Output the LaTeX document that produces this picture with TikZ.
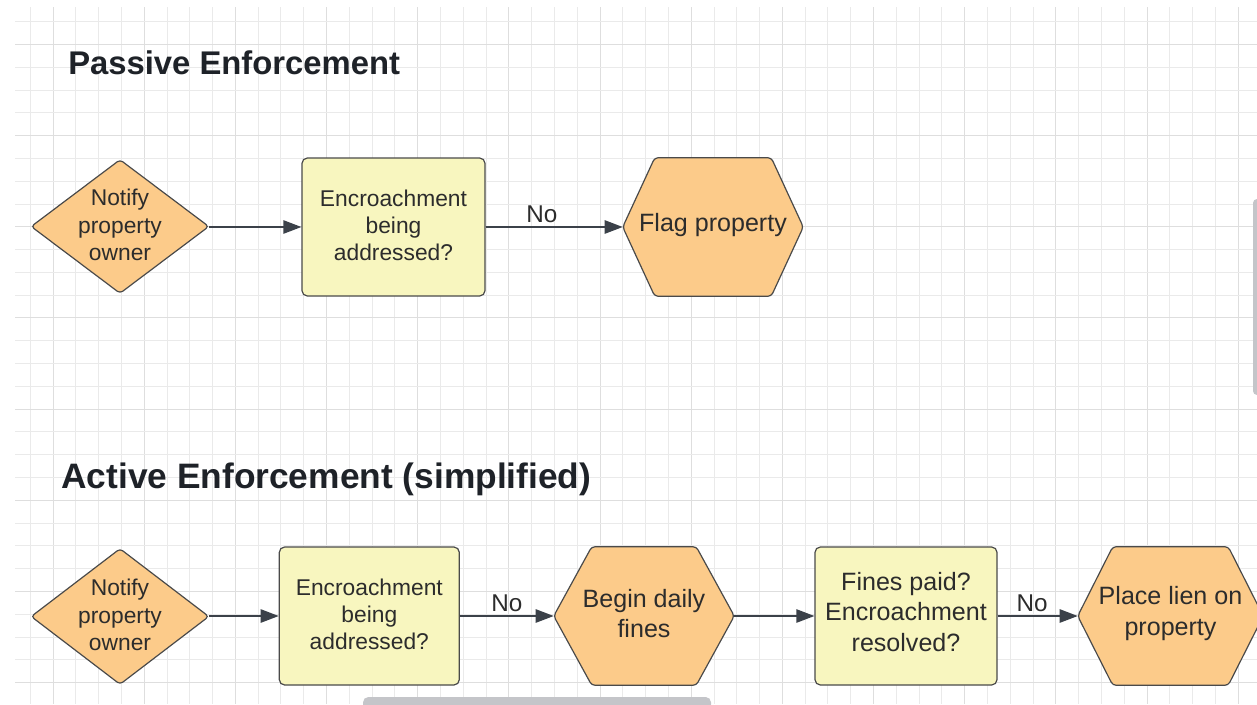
\documentclass[tikz,border=0pt]{standalone}
\usepackage{fontspec}
\setmainfont{Liberation Sans}
\usetikzlibrary{arrows.meta,calc}
\pgfdeclarelayer{grid}
\pgfdeclarelayer{shapes}
\pgfsetlayers{grid,shapes,main}

\definecolor{gridminor}{HTML}{EAEAEA}
\definecolor{gridmajor}{HTML}{DEDEDE}
\definecolor{orangefill}{HTML}{FCCB8A}
\definecolor{yellowfill}{HTML}{F8F6BF}
\definecolor{outline}{HTML}{4A4A4A}
\definecolor{linkcol}{HTML}{3B4149}
\definecolor{txt}{HTML}{2C2C2C}
\definecolor{headcol}{HTML}{1E2228}
\definecolor{scrollcol}{HTML}{C4C5C9}

\tikzset{
  x=0.75pt, y=-0.75pt,
  heading/.style={anchor=base west, inner sep=0pt, text=headcol, font=\bfseries},
  holder/.style={rectangle, inner sep=0pt},
  smalltext/.style={font=\fontsize{17.1pt}{20.3pt}\selectfont},
  bigtext/.style={font=\fontsize{18.8pt}{22.9pt}\selectfont},
  orangeshape/.style={fill=orangefill, draw=outline, line width=0.9pt, rounded corners=2.5pt},
  yellowbox/.style={rectangle, rounded corners=4pt, fill=yellowfill, draw=outline, line width=0.9pt, inner sep=0pt},
  boxtext/.style={inner sep=0pt, align=center, text=txt, yshift=#1},
  link/.style={draw=linkcol, line width=1.1pt, -{Triangle[length=13.5pt,width=10pt]}},
  linklabel/.style={above, inner sep=3pt, text=txt, font=\fontsize{18.2pt}{21pt}\selectfont},
  gridline/.style={line width=0.75pt},
}

% outline helpers drawn from a node's bounding box
\newcommand{\diamondoutline}[1]{%
  \path[orangeshape] (#1.west) -- (#1.north) -- (#1.east) -- (#1.south) -- cycle;}
\newcommand{\hexoutline}[2]{%
  \path[orangeshape] (#1.west) -- ($(#1.north west)+(#2,0)$) -- ($(#1.north east)+(-#2,0)$)
    -- (#1.east) -- ($(#1.south east)+(-#2,0)$) -- ($(#1.south west)+(#2,0)$) -- cycle;}

\begin{document}
\begin{tikzpicture}
\useasboundingbox (0,0) rectangle (1257,704);

% canvas with grid
\begin{pgfonlayer}{grid}
\fill[white] (0,0) rectangle (1257,704);
\begin{scope}
  \clip (15,7) rectangle (1257,704);
  \foreach \i in {0,...,54} {
    \pgfmathtruncatemacro{\m}{mod(\i,4)}
    \pgfmathsetmacro{\gx}{30.3+22.79*\i}
    \ifnum\m=1
      \draw[gridmajor, gridline] (\gx,7) -- (\gx,704);
    \else
      \draw[gridminor, gridline] (\gx,7) -- (\gx,704);
    \fi
  }
  \foreach \j in {0,...,30} {
    \pgfmathtruncatemacro{\m}{mod(\j,4)}
    \pgfmathsetmacro{\gy}{21.7+22.79*\j}
    \ifnum\m=1
      \draw[gridmajor, gridline] (15,\gy) -- (1257,\gy);
    \else
      \draw[gridminor, gridline] (15,\gy) -- (1257,\gy);
    \fi
  }
\end{scope}
\end{pgfonlayer}

% headings
\node[heading, font=\bfseries\fontsize{24.6pt}{29pt}\selectfont] (passive) at (68,74) {Passive Enforcement};
\node[heading, font=\bfseries\fontsize{26.5pt}{31pt}\selectfont] (active) at (61,488.5) {Active Enforcement (simplified)};

% passive enforcement flow
\node[holder, minimum width=132.75pt, minimum height=99.75pt,
      label={[boxtext=1.2pt, smalltext]center:Notify\\property\\owner}] (d1) at (120,226.5) {};
\node[yellowbox, minimum width=137.25pt, minimum height=103.5pt,
      label={[boxtext=1.5pt, smalltext]center:Encroachment\\being\\addressed?}] (r1) at (393.5,227) {};
\node[holder, minimum width=135pt, minimum height=103.5pt,
      label={[boxtext=1.2pt, bigtext]center:Flag property}] (h1) at (713,227) {};

% active enforcement flow
\node[holder, minimum width=132.75pt, minimum height=101.25pt,
      label={[boxtext=1.2pt, smalltext]center:Notify\\property\\owner}] (d2) at (120,616.5) {};
\node[yellowbox, minimum width=135pt, minimum height=103.5pt,
      label={[boxtext=1.5pt, smalltext]center:Encroachment\\being\\addressed?}] (r2) at (369.3,616) {};
\node[holder, minimum width=135pt, minimum height=103.5pt,
      label={[boxtext=2pt, bigtext]center:Begin daily\\fines}] (h2) at (644,616) {};
\node[yellowbox, minimum width=136.5pt, minimum height=103.5pt,
      label={[boxtext=3pt, bigtext]center:Fines paid?\\Encroachment\\resolved?}] (r3) at (906,616) {};
\node[holder, minimum width=138.75pt, minimum height=103.5pt,
      label={[boxtext=2pt, bigtext]center:Place lien on\\property}] (h3) at (1170.5,616) {};

% shape outlines behind the labels
\begin{pgfonlayer}{shapes}
  \diamondoutline{d1}
  \diamondoutline{d2}
  \hexoutline{h1}{32}
  \hexoutline{h2}{38}
  \hexoutline{h3}{35}
\end{pgfonlayer}

% connectors
\draw[link] (d1.east|-r1.west) -- (r1.west);
\draw[link] (r1.east) -- node[linklabel, pos=0.41] {No} (h1.west|-r1.east);
\draw[link] (d2.east|-r2.west) -- (r2.west);
\draw[link] (r2.east) -- node[linklabel, pos=0.5] {No} (h2.west|-r2.east);
\draw[link] (h2.east|-r3.west) -- (r3.west);
\draw[link] (r3.east) -- node[linklabel, pos=0.43] {No} (h3.west|-r3.east);

% window scrollbars
\fill[scrollcol, rounded corners=4pt] (363,697) rectangle (711,710);
\fill[scrollcol, rounded corners=3pt] (1253,199) rectangle (1262,395);
\end{tikzpicture}
\end{document}
